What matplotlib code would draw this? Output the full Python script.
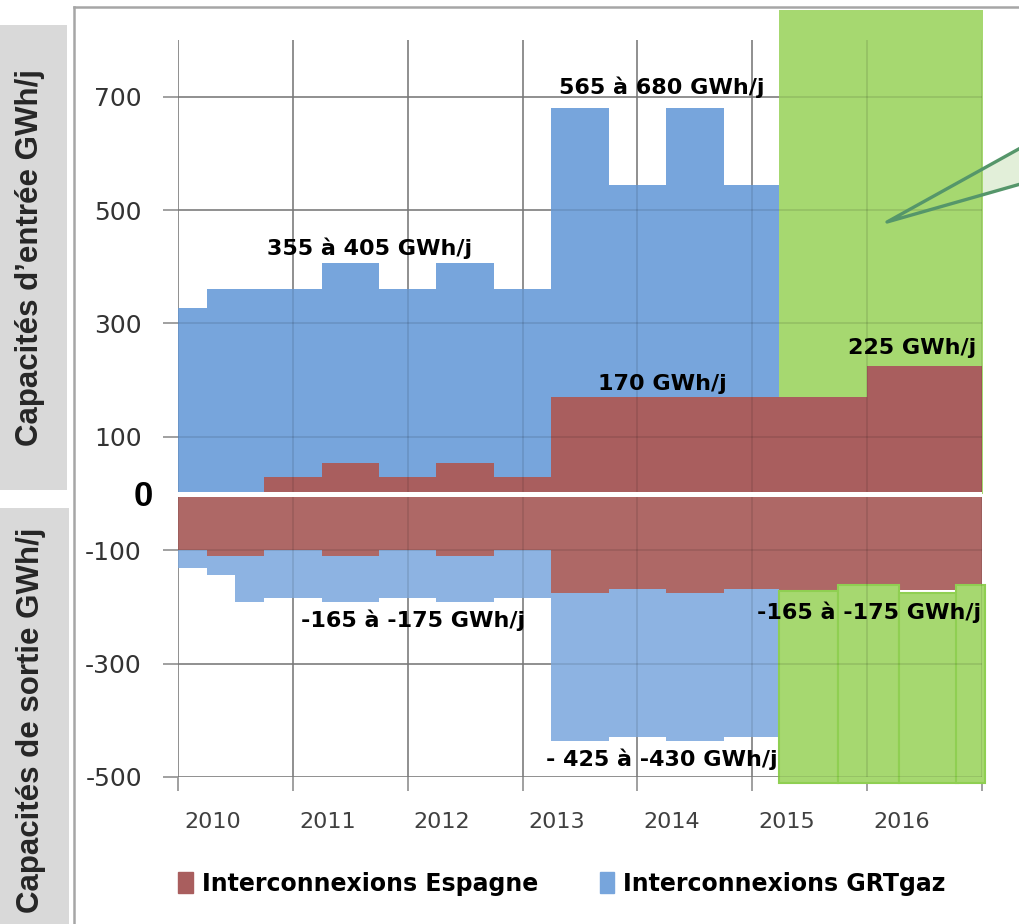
import numpy as np
import matplotlib.pyplot as plt
from matplotlib.patches import Rectangle, Patch, Polygon
from matplotlib.lines import Line2D

# --- data (x in years since start of 2010) ---
grt_in_edges = [0, 0.25, 1.25, 1.75, 2.25, 2.75, 3.25, 3.75, 4.25, 4.75, 5.23]
grt_in = [328, 360, 407, 360, 407, 360, 680, 545, 680, 545]
grt_out_edges = [0, 0.25, 0.5, 0.75, 1.25, 1.75, 2.25, 2.75, 3.25, 3.75, 4.25, 4.75, 5.23]
grt_out = [-132, -143, -192, -185, -192, -185, -192, -185, -437, -429, -437, -429]

esp_in_edges = [0, 0.75, 1.25, 1.75, 2.25, 2.75, 3.25, 6.0, 7.0]
esp_in = [0, 30, 53, 30, 53, 30, 170, 225]
esp_out_edges = [0, 0.25, 0.75, 1.25, 1.75, 2.25, 2.75, 3.25, 3.75, 4.25, 4.75, 5.23, 7.0]
esp_out = [-100, -110, -100, -110, -100, -110, -100, -175, -168, -175, -168, -170]

# green highlight (2015-2016)
green_hi_edges = [5.23, 7.01]
green_hi_top = [853]
green_lo_left = [5.23, 5.75, 6.28, 6.77]
green_lo_right = [5.75, 6.28, 6.79, 7.03]
green_lo_top = [-172, -162, -176, -162]
green_lo_bottom = -510

years = ['2010', '2011', '2012', '2013', '2014', '2015', '2016']
yticks = [700, 500, 300, 100, -100, -300, -500]

notes = [
    ("355 à 405 GWh/j", 1.67, 432),
    ("565 à 680 GWh/j", 4.21, 716),
    ("170 GWh/j", 4.22, 194),
    ("225 GWh/j", 6.39, 256),
    ("-165 à -175 GWh/j", 2.05, -224),
    ("-165 à -175 GWh/j", 6.02, -210),
    ("- 425 à -430 GWh/j", 4.21, -469),
]

c_blue_in = '#77a5dc'
c_blue_out = '#8db3e2'
c_red_in = '#a95e5e'
c_red_out = '#ae6866'
c_green = '#a6d870'
c_green_edge = '#8fcf52'
c_grid = '#999999'

W, H = 1019, 924
fig = plt.figure(figsize=(W / 100, H / 100), dpi=100)
ax = fig.add_axes([178 / W, 1 - 777 / H, 804 / W, 737 / H])

# series
ax.stairs(grt_in, grt_in_edges, baseline=0, fill=True, color=c_blue_in, lw=0, zorder=1)
ax.stairs(grt_out, grt_out_edges, baseline=0, fill=True, color=c_blue_out, lw=0, zorder=1)
ax.stairs(green_hi_top, green_hi_edges, baseline=0, fill=True, color=c_green, lw=0,
          zorder=2, clip_on=False)
ax.stairs(esp_in, esp_in_edges, baseline=0, fill=True, color=c_red_in, lw=0, zorder=3)
ax.stairs(esp_out, esp_out_edges, baseline=0, fill=True, color=c_red_out, lw=0, zorder=3)

gl = np.array(green_lo_left)
gr = np.array(green_lo_right)
gt = np.array(green_lo_top)
ax.bar(gl, gt - green_lo_bottom, width=gr - gl, bottom=green_lo_bottom, align='edge',
       color=c_green, edgecolor=c_green_edge, lw=1.5, zorder=4, clip_on=False)

# zero line
ax.axhline(0, color='white', lw=3.6, zorder=6)

# axes / grid
ax.set_xlim(0, 7)
ax.set_ylim(-500, 800)
for s in ax.spines.values():
    s.set_visible(False)
ax.set_axisbelow(True)
ax.set_yticks(yticks)
ax.set_yticklabels([str(v) for v in yticks])
ax.set_xticks(range(8))
ax.set_xticklabels([])
ax.set_xticks(np.arange(7) + 0.3, minor=True)
ax.set_xticklabels(years, minor=True)
ax.grid(True, which='major', color=c_grid, lw=1.3)
ax.tick_params(axis='y', length=11, width=1.3, color=c_grid, pad=15,
               labelsize=18, labelcolor='#333333')
ax.tick_params(axis='x', which='major', length=10, width=1.3, color=c_grid)
ax.tick_params(axis='x', which='minor', length=0, pad=25, labelsize=16,
               labelcolor='#404040')
# grid seen through the filled areas
for v in yticks:
    ax.axhline(v, color='k', alpha=0.1, lw=1.3, zorder=5)
for k in range(8):
    ax.axvline(k, color='k', alpha=0.1, lw=1.3, zorder=5)

for txt, x, y in notes:
    ax.text(x, y, txt, ha='center', va='center', fontsize=16, fontweight='bold',
            color='black', zorder=10)

# "0" marker on the axis
fig.text(143 / W, 1 - 497 / H, "0", ha='center', va='center', fontsize=25,
         fontweight='bold', family='Liberation Sans')

# callout pointer (fill sits behind the axes, lines on top)
tip = (887 / W, 1 - 222 / H)
p_a = (1.005, 1 - 146 / H)
p_b = (1.005, 1 - 183 / H)
fig.add_artist(Polygon([tip, p_a, p_b], closed=True, transform=fig.transFigure,
                       facecolor='#e2efd9', edgecolor='none', zorder=-1))
fig.add_artist(Line2D([p_a[0], tip[0], p_b[0]], [p_a[1], tip[1], p_b[1]],
                      transform=fig.transFigure, color='#55966a', lw=2.4,
                      solid_joinstyle='round', solid_capstyle='round', zorder=20))

# chart border
fig.add_artist(Line2D([74 / W, 74 / W], [0, 1 - 7 / H], color='#a6a6a6', lw=1.8))
fig.add_artist(Line2D([74 / W, 1], [1 - 7 / H, 1 - 7 / H], color='#a6a6a6', lw=1.8))

# side boxes
fig.add_artist(Rectangle((0, 1 - 490 / H), 67 / W, 465 / H, transform=fig.transFigure,
                         facecolor='#d9d9d9', edgecolor='none', zorder=0))
fig.add_artist(Rectangle((0, 0), 69 / W, (H - 508) / H, transform=fig.transFigure,
                         facecolor='#d9d9d9', edgecolor='none', zorder=0))
fig.text(30 / W, 1 - 258 / H, "Capacités d\u2019entrée GWh/j", rotation=90,
         ha='center', va='center', fontsize=22.5, fontweight='bold',
         family='Liberation Sans', color='#262626')
fig.text(31 / W, 1 - 720 / H, "Capacités de sortie GWh/j", rotation=90,
         ha='center', va='center', fontsize=22.5, fontweight='bold',
         family='Liberation Sans', color='#262626')

# legend
handles = [Patch(color=c_red_in), Patch(color=c_blue_in)]
labels = ['Interconnexions Espagne', 'Interconnexions GRTgaz']
fig.legend(handles, labels, loc='center', bbox_to_anchor=(562 / W, 1 - 884 / H),
           ncol=2, frameon=False, handlelength=0.6, handleheight=1.0,
           handletextpad=0.4, columnspacing=2.6,
           prop={'family': 'DejaVu Sans', 'weight': 'bold', 'size': 17})

fig.savefig('out.png', dpi=100)
